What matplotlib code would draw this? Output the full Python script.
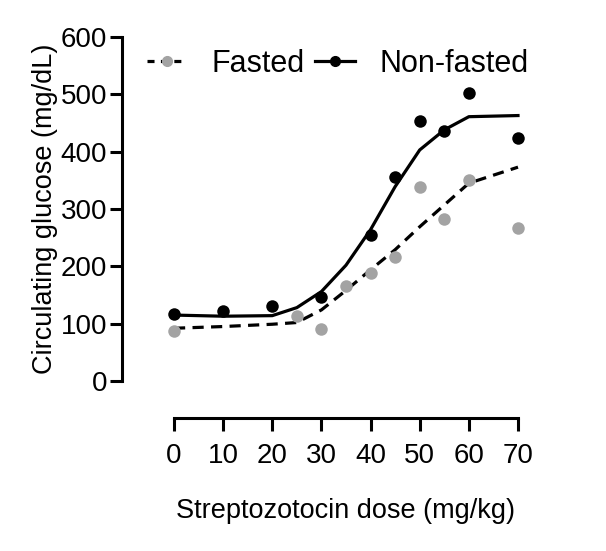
import matplotlib
matplotlib.use("Agg")
import matplotlib.pyplot as plt
from matplotlib.lines import Line2D

plt.rcParams['font.family'] = ['Liberation Sans', 'DejaVu Sans']

# measured points
nonfasted_dose = [0, 10, 20, 30, 40, 45, 50, 55, 60, 70]
nonfasted_glucose = [117, 122, 131, 147, 255, 355, 454, 436, 503, 424]
fasted_dose = [0, 25, 30, 35, 40, 45, 50, 55, 60, 70]
fasted_glucose = [87, 114, 91, 166, 188, 216, 338, 282, 351, 267]

# fitted curves
fit_dose = [0, 10, 20, 25, 30, 35, 40, 45, 50, 55, 60, 70]
nonfasted_fit = [115, 113, 114, 128, 156, 202, 264, 339, 403, 438, 461, 463]
fasted_fit = [92, 95, 99, 102, 124, 158, 194, 229, 269, 307, 345, 373]

xticks = [0, 10, 20, 30, 40, 50, 60, 70]
yticks = [0, 100, 200, 300, 400, 500, 600]

gray = '#a3a3a3'

fig = plt.figure(figsize=(6.06, 5.51), dpi=100)
ax = fig.add_axes([174/606, (551-381)/551, 344/606, 344/551])

ax.plot(fit_dose, nonfasted_fit, color='black', lw=2.3, clip_on=False)
ax.plot(fit_dose, fasted_fit, color='black', lw=2.3, dashes=[3.5, 2.3], clip_on=False)
ax.plot(nonfasted_dose, nonfasted_glucose, 'o', color='black', ms=9, mew=0, clip_on=False, zorder=3)
ax.plot(fasted_dose, fasted_glucose, 'o', color=gray, ms=9, mew=0, clip_on=False, zorder=3)

ax.set_xlim(0, 70)
ax.set_ylim(0, 600)
ax.set_xticks(xticks)
ax.set_yticks(yticks)

for s in ['top', 'right']:
    ax.spines[s].set_visible(False)
ax.spines['left'].set_position(('outward', 37.5))
ax.spines['bottom'].set_position(('outward', 26.5))
ax.spines['left'].set_bounds(0, 600)
ax.spines['bottom'].set_bounds(0, 70)
ax.spines['left'].set_linewidth(2.2)
ax.spines['bottom'].set_linewidth(2.2)
ax.tick_params(axis='both', width=2.2, length=9, color='black')
ax.tick_params(axis='x', labelsize=20, pad=9)
ax.tick_params(axis='y', labelsize=20, pad=1.5)

ax.set_xlabel('Streptozotocin dose (mg/kg)', fontsize=19.5, labelpad=21)
ax.set_ylabel('Circulating glucose (mg/dL)', fontsize=19.5, labelpad=2)

h_f = Line2D([], [], color='black', lw=2.3, dashes=[2.2, 2.0], marker='o',
             markerfacecolor=gray, markeredgecolor=gray, ms=7)
h_n = Line2D([], [], color='black', lw=2.3, marker='o', ms=7)
ax.legend([h_f, h_n], ['Fasted', 'Non-fasted'], ncol=2, frameon=False,
          fontsize=22, handlelength=1.3, handletextpad=0.8, columnspacing=0.35,
          loc='center left', bbox_to_anchor=(147/606, 1 - 64/551),
          bbox_transform=fig.transFigure, borderpad=0, borderaxespad=0)

fig.savefig('out.png', dpi=100)
